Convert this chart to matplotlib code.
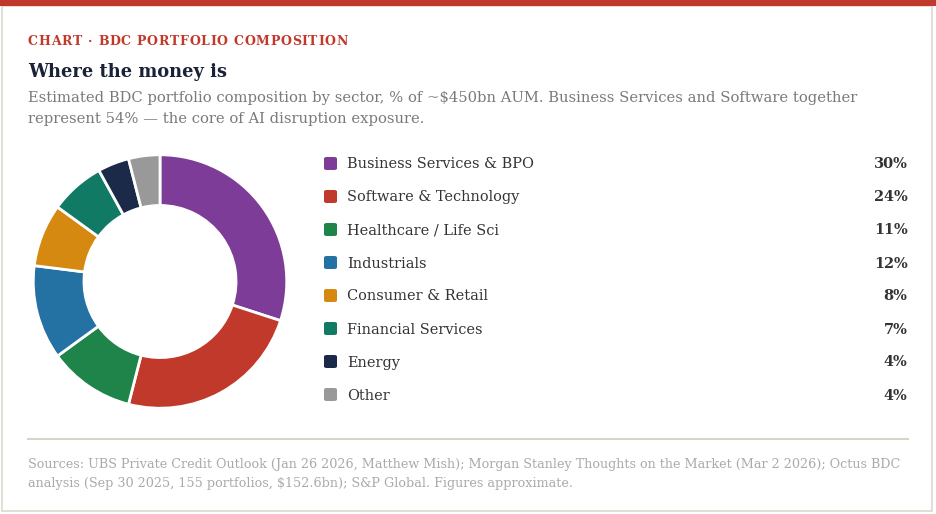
import matplotlib
matplotlib.use("Agg")
import matplotlib.pyplot as plt
from matplotlib.patches import Rectangle, FancyBboxPatch
from matplotlib.font_manager import FontProperties, findfont
from matplotlib.ft2font import FT2Font, LoadFlags

# ---- data ----
sectors = ["Business Services & BPO", "Software & Technology", "Healthcare / Life Sci",
           "Industrials", "Consumer & Retail", "Financial Services", "Energy", "Other"]
shares = [30, 24, 11, 12, 8, 7, 4, 4]
pct_labels = ["30%", "24%", "11%", "12%", "8%", "7%", "4%", "4%"]
colors = ["#7D3C98", "#C0392B", "#1E8449", "#2471A3", "#D68910", "#117A65", "#1B2A49", "#999999"]

kicker = "CHART · BDC PORTFOLIO COMPOSITION"
title = "Where the money is"
subtitle = ["Estimated BDC portfolio composition by sector, % of ~$450bn AUM. Business Services and Software together",
            "represent 54% — the core of AI disruption exposure."]
footer = ["Sources: UBS Private Credit Outlook (Jan 26 2026, Matthew Mish); Morgan Stanley Thoughts on the Market (Mar 2 2026); Octus BDC",
          "analysis (Sep 30 2025, 155 portfolios, $152.6bn); S&P Global. Figures approximate."]

W, H = 936, 514
fig = plt.figure(figsize=(W / 100, H / 100), dpi=100)
fig.patch.set_facecolor("white")
SERIF = ["DejaVu Serif", "Liberation Serif"]

def fx(x):
    return x / W

def fy(y):
    return 1 - y / H

renderer = fig.canvas.get_renderer()

def fit_text(x, y, s, target_w, ha="left", **kw):
    t = fig.text(fx(x), fy(y), s, ha=ha, va="baseline", **kw)
    w = t.get_window_extent(renderer=renderer).width
    t.set_fontsize(t.get_fontsize() * target_w / w)
    return t

# card
fig.patches.append(Rectangle((fx(2), fy(511)), fx(929.5), (511 - 6) / H, transform=fig.transFigure,
                             facecolor="white", edgecolor="#dcd8d0", linewidth=1.2, zorder=-2))
fig.patches.append(Rectangle((0, fy(6)), 1, 6 / H, transform=fig.transFigure,
                             facecolor="#C0392B", edgecolor="none", zorder=-1))

# kicker with letter spacing (glyph advances from the font file)
ks = 9.0
fp = FontProperties(family=SERIF, weight="bold", size=ks)
font = FT2Font(findfont(fp))
font.set_size(ks, 100)
adv = []
for ch in kicker:
    g = font.load_char(ord(ch), flags=LoadFlags.NO_HINTING)
    adv.append(g.linearHoriAdvance / 65536.0)
track = (320 - sum(adv[:-1]) - adv[-1]) / (len(kicker) - 1)
x = 28.0
for ch, a in zip(kicker, adv):
    if ch != " ":
        fig.text(fx(x), fy(45), ch, fontproperties=fp, color="#C0392B", ha="left", va="baseline")
    x += a + track

# title and subtitle
fit_text(28, 77, title, 200, fontsize=15, fontweight="bold", family=SERIF, color="#1B2238")
t1 = fit_text(28, 102, subtitle[0], 829, fontsize=10, family=SERIF, color="#7a7a7a")
fig.text(fx(28), fy(123), subtitle[1], fontsize=t1.get_fontsize(), family=SERIF, color="#7a7a7a",
         ha="left", va="baseline")

# donut
cx, cy, R = 160, 281.5, 128
ax = fig.add_axes([fx(cx - R), fy(cy + R), 2 * R / W, 2 * R / H])
ax.pie(shares, colors=colors, startangle=90, counterclock=False, radius=1.0,
       wedgeprops=dict(width=0.40, edgecolor="white", linewidth=2.0))
ax.set_xlim(-1.01, 1.01)
ax.set_ylim(-1.01, 1.01)
ax.set_aspect("auto")
ax.axis("off")

# legend
row0, step = 163.5, 33
lab_size = None
for i, (name, pl, c) in enumerate(zip(sectors, pct_labels, colors)):
    yy = row0 + i * step
    fig.patches.append(FancyBboxPatch((fx(324), fy(yy + 6.5)), 13 / W, 13 / H,
                                      boxstyle="round,pad=0,rounding_size=0.003",
                                      transform=fig.transFigure, facecolor=c, edgecolor="none"))
    if lab_size is None:
        t = fit_text(347, yy + 5, name, 186, fontsize=10, family=SERIF, color="#333333")
        lab_size = t.get_fontsize()
    else:
        fig.text(fx(347), fy(yy + 5), name, fontsize=lab_size, family=SERIF, color="#333333",
                 ha="left", va="baseline")
    fig.text(fx(907.5), fy(yy + 5), pl, fontsize=lab_size, fontweight="bold", family=SERIF,
             color="#333333", ha="right", va="baseline")

# footer
fig.add_artist(plt.Line2D([fx(28), fx(908)], [fy(439), fy(439)], transform=fig.transFigure,
                          color="#d8d4cc", linewidth=1.5))
f1 = fit_text(28, 468, footer[0], 878, fontsize=9, family=SERIF, color="#aaaaaa")
fig.text(fx(28), fy(487), footer[1], fontsize=f1.get_fontsize(), family=SERIF, color="#aaaaaa",
         ha="left", va="baseline")

fig.savefig("out.png", dpi=100)
